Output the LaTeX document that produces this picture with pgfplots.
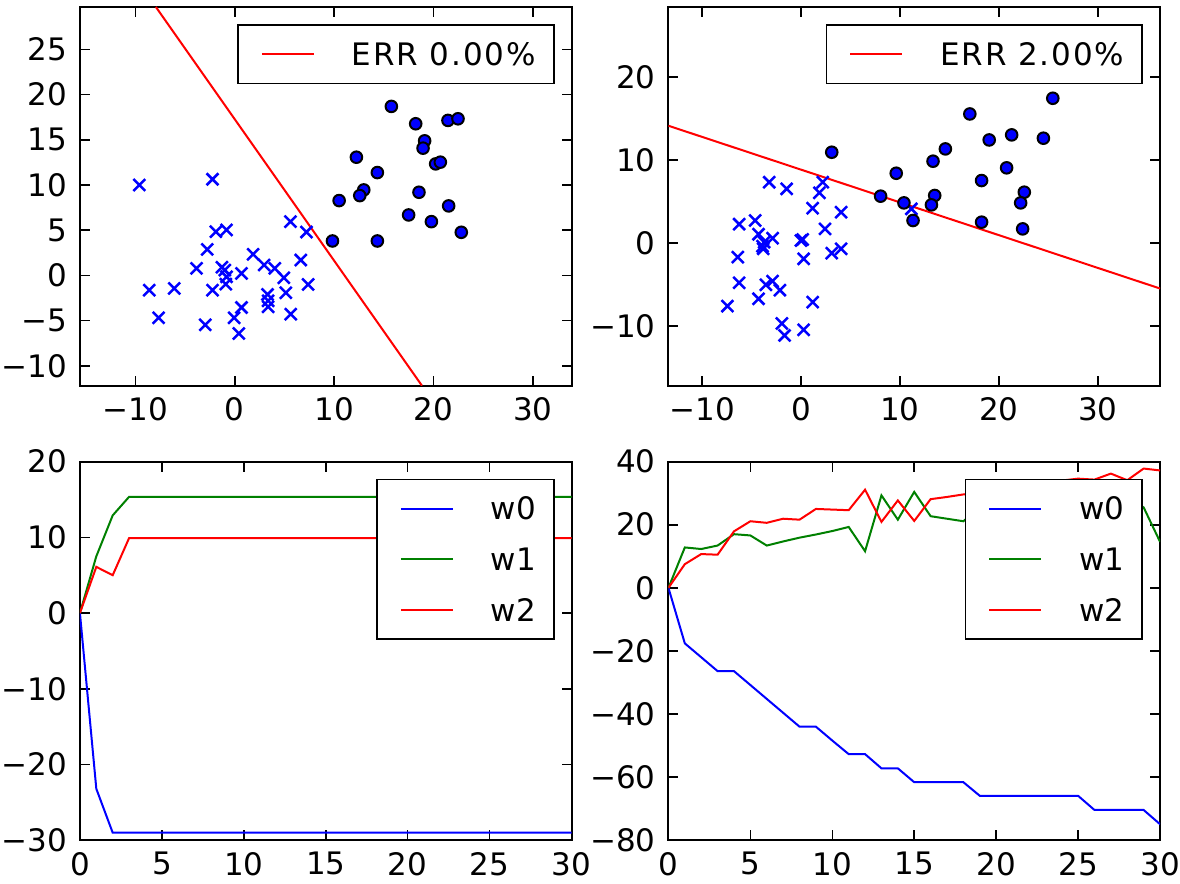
\documentclass[border=0pt]{standalone}
\usepackage{fontspec}
\setmainfont{DejaVu Sans}
\usepackage{pgfplots}
\pgfplotsset{compat=1.18}
\usepgfplotslibrary{groupplots}
\usetikzlibrary{calc}

\definecolor{mplblue}{rgb}{0,0,1}
\definecolor{mplgreen}{rgb}{0,0.5,0}
\definecolor{mplred}{rgb}{1,0,0}

\pgfplotsset{
  mplstyle/.style={
    scale only axis,
    width=246pt,
    height=189.5pt,
    axis line style={black, line width=1pt},
    tick align=inside,
    major tick length=5pt,
    tick style={black, line width=0.8pt},
    tick label style={font=\fontsize{15.5}{18}\selectfont, inner sep=0pt},
    xticklabel style={yshift=-5.8pt},
    yticklabel style={xshift=-6.3pt},
    /pgf/number format/assume math mode=true,
    legend cell align=left,
    legend style={draw=black, line width=0.8pt, fill=white,
      font=\fontsize{15.5}{18}\selectfont,
      inner xsep=9pt, inner ysep=9pt,
      nodes={inner sep=0pt, text height=11.3pt, text depth=0pt},
      row sep=14pt,
      at={(1,1)}, xshift=-8.5pt, yshift=-8.5pt, anchor=north east},
    legend image code/.code={%
      \path[draw=none, fill=none] (-3pt,0pt) -- (45pt,0pt);
      \draw[#1] (0pt,0pt) -- (26pt,0pt);},
  },
  crosses/.style={only marks, mark=x, mplblue, mark size=4.2pt, line width=1.25pt, forget plot},
  dots/.style={only marks, mark=*, mark size=2.9pt, mark options={draw=black, fill=mplblue, line width=1pt}, forget plot},
}

\begin{document}
\begin{tikzpicture}
\begin{groupplot}[
  group style={group size=2 by 2, horizontal sep=48.5pt, vertical sep=38pt},
  mplstyle,
]

% top left: separable data
\nextgroupplot[
  xmin=-15.6, xmax=33.9, ymin=-12.2, ymax=29.7,
  xtick={-10,0,10,20,30}, xticklabels={−10,0,10,20,30},
  ytick={-10,-5,0,5,10,15,20,25}, yticklabels={−10,−5,0,5,10,15,20,25},
]
\addplot[crosses] coordinates {
  (-9.62,10.0) (-2.25,10.64) (-8.62,-1.63) (-6.10,-1.44) (-7.68,-4.69)
  (-2.98,-5.47) (-1.91,4.84) (-0.84,5.03) (-2.78,2.88) (-3.86,0.78)
  (-2.25,-1.63) (-1.01,0.59) (-0.84,-0.15) (-0.91,-0.96) (0.67,0.22)
  (1.84,2.33) (2.95,1.15) (4.02,0.78) (4.93,-0.26) (3.29,-2.11)
  (3.35,-3.47) (3.35,-2.81) (5.13,-1.92) (5.63,-4.29) (0.67,-3.55)
  (-0.07,-4.69) (0.40,-6.43) (5.60,5.95) (7.21,4.80) (6.64,1.70)
  (7.38,-1.0) (-1.3,0.9)
};
\addplot[dots] coordinates {
  (15.76,18.70) (18.21,16.78) (21.46,17.15) (22.47,17.33) (19.11,14.89)
  (18.95,14.08) (12.24,13.08) (20.22,12.34) (20.69,12.53) (14.35,11.38)
  (12.98,9.46) (12.58,8.83) (10.50,8.28) (18.54,9.20) (21.53,7.69)
  (17.50,6.69) (19.79,5.95) (9.83,3.81) (14.35,3.81) (22.80,4.77)
};
\addplot[mplred, line width=1pt] coordinates {(-7.95,29.7) (18.84,-12.2)};
\addlegendentry{\addfontfeature{LetterSpace=6}ERR 0.00\%}

% top right: overlapping data
\nextgroupplot[
  xmin=-13.4, xmax=36.3, ymin=-17.2, ymax=28.4,
  xtick={-10,0,10,20,30}, xticklabels={−10,0,10,20,30},
  ytick={-10,0,10,20}, yticklabels={−10,0,10,20},
]
\addplot[crosses] coordinates {
  (-3.21,7.30) (-1.45,6.50) (2.20,7.30) (1.86,6.02) (1.18,4.17)
  (4.06,3.69) (-6.25,2.25) (-4.63,2.69) (-4.29,1.04) (-2.87,0.56)
  (-3.89,-0.40) (-3.72,0.08) (0.0,0.28) (0.17,0.40) (2.43,1.68)
  (-6.39,-1.72) (0.27,-1.93) (3.11,-1.24) (4.06,-0.72) (-6.25,-4.81)
  (-3.55,-5.05) (-2.87,-4.61) (-2.13,-5.70) (-4.29,-6.74) (-7.44,-7.62)
  (1.18,-7.14) (-1.93,-9.71) (-1.66,-11.15) (0.27,-10.47) (11.16,4.09)
  (-3.82,-0.72)
};
\addplot[dots] coordinates {
  (25.46,17.41) (17.07,15.52) (21.30,13.00) (19.03,12.39) (24.51,12.60)
  (14.60,11.31) (3.11,10.91) (13.35,9.83) (20.79,9.03) (9.63,8.38)
  (18.26,7.50) (8.05,5.62) (10.41,4.81) (13.52,5.70) (13.19,4.57)
  (22.58,6.10) (22.21,4.81) (11.33,2.69) (18.26,2.49) (22.41,1.68)
};
\addplot[mplred, line width=1pt] coordinates {(-13.4,14.1) (36.3,-5.5)};
\addlegendentry{\addfontfeature{LetterSpace=6}ERR 2.00\%}

% bottom left: weights, separable case
\nextgroupplot[
  xmin=0, xmax=30, ymin=-30, ymax=20,
  xtick={0,5,10,15,20,25,30},
  ytick={-30,-20,-10,0,10,20}, yticklabels={−30,−20,−10,0,10,20},
]
\addplot[mplblue, line width=1pt] coordinates {
  (0,0) (1,-23.2) (2,-29) (3,-29) (4,-29) (5,-29) (6,-29) (7,-29) (8,-29)
  (9,-29) (10,-29) (11,-29) (12,-29) (13,-29) (14,-29) (15,-29) (16,-29)
  (17,-29) (18,-29) (19,-29) (20,-29) (21,-29) (22,-29) (23,-29) (24,-29)
  (25,-29) (26,-29) (27,-29) (28,-29) (29,-29) (30,-29)
};
\addlegendentry{w0}
\addplot[mplgreen, line width=1pt] coordinates {
  (0,0) (1,7.5) (2,12.9) (3,15.35) (4,15.35) (5,15.35) (6,15.35) (7,15.35)
  (8,15.35) (9,15.35) (10,15.35) (11,15.35) (12,15.35) (13,15.35) (14,15.35)
  (15,15.35) (16,15.35) (17,15.35) (18,15.35) (19,15.35) (20,15.35)
  (21,15.35) (22,15.35) (23,15.35) (24,15.35) (25,15.35) (26,15.35)
  (27,15.35) (28,15.35) (29,15.35) (30,15.35)
};
\addlegendentry{w1}
\addplot[mplred, line width=1pt] coordinates {
  (0,0) (1,6.1) (2,5.0) (3,9.9) (4,9.9) (5,9.9) (6,9.9) (7,9.9) (8,9.9)
  (9,9.9) (10,9.9) (11,9.9) (12,9.9) (13,9.9) (14,9.9) (15,9.9) (16,9.9)
  (17,9.9) (18,9.9) (19,9.9) (20,9.9) (21,9.9) (22,9.9) (23,9.9) (24,9.9)
  (25,9.9) (26,9.9) (27,9.9) (28,9.9) (29,9.9) (30,9.9)
};
\addlegendentry{w2}

% bottom right: weights, overlapping case
\nextgroupplot[
  xmin=0, xmax=30, ymin=-80, ymax=40,
  xtick={0,5,10,15,20,25,30},
  ytick={-80,-60,-40,-20,0,20,40}, yticklabels={−80,−60,−40,−20,0,20,40},
]
\addplot[mplblue, line width=1pt] coordinates {
  (0,0) (1,-17.6) (2,-22.0) (3,-26.4) (4,-26.4) (5,-30.8) (6,-35.2)
  (7,-39.6) (8,-44.0) (9,-44.0) (10,-48.4) (11,-52.7) (12,-52.7)
  (13,-57.2) (14,-57.2) (15,-61.6) (16,-61.6) (17,-61.6) (18,-61.6)
  (19,-65.9) (20,-65.9) (21,-65.9) (22,-65.9) (23,-65.9) (24,-65.9)
  (25,-65.9) (26,-70.4) (27,-70.4) (28,-70.4) (29,-70.4) (30,-74.9)
};
\addlegendentry{w0}
\addplot[mplgreen, line width=1pt] coordinates {
  (0,0) (1,12.8) (2,12.3) (3,13.4) (4,17.0) (5,16.6) (6,13.4) (7,14.7)
  (8,15.9) (9,16.9) (10,18.0) (11,19.3) (12,11.6) (13,29.3) (14,21.6)
  (15,30.4) (16,22.7) (17,21.9) (18,21.1) (19,25.5) (20,24.0) (21,27.0)
  (22,25.0) (23,28.0) (24,26.5) (25,29.0) (26,27.5) (27,30.0) (28,28.5)
  (29,25.5) (30,14.6)
};
\addlegendentry{w1}
\addplot[mplred, line width=1pt] coordinates {
  (0,0) (1,7.5) (2,10.7) (3,10.5) (4,17.9) (5,21.1) (6,20.6) (7,21.9)
  (8,21.6) (9,25.0) (10,24.8) (11,24.6) (12,31.1) (13,20.9) (14,27.7)
  (15,21.2) (16,28.1) (17,28.8) (18,29.6) (19,30.2) (20,31.0) (21,31.5)
  (22,32.2) (23,33.0) (24,34.0) (25,34.6) (26,34.3) (27,36.2) (28,34.1)
  (29,37.8) (30,37.2)
};
\addlegendentry{w2}
\end{groupplot}
\pgfresetboundingbox
\path ($(group c1r2.south west)+(-40pt,-21.5pt)$) rectangle ($(group c2r1.north east)+(10pt,3.5pt)$);
\end{tikzpicture}
\end{document}
